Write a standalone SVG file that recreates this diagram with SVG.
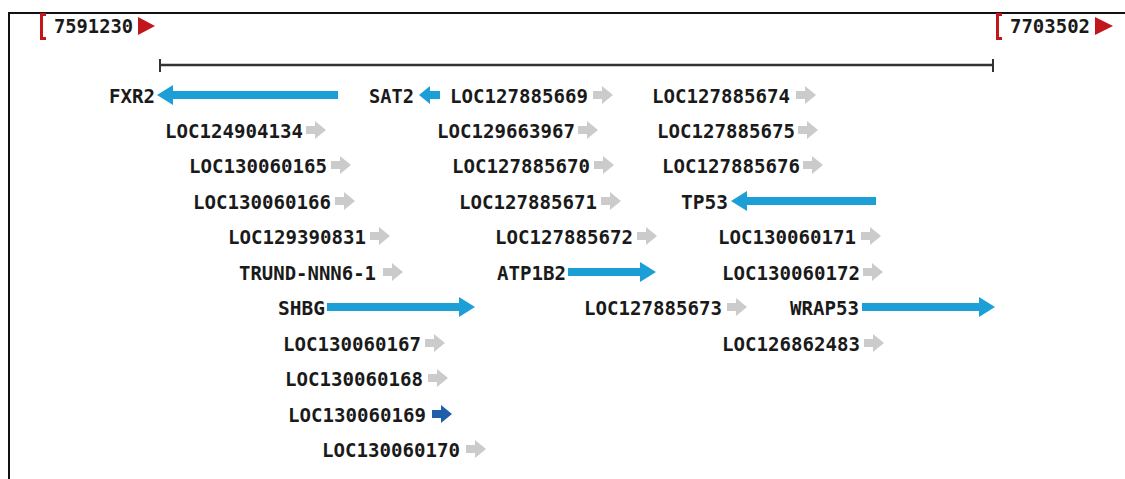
<svg xmlns="http://www.w3.org/2000/svg" xmlns:xlink="http://www.w3.org/1999/xlink" width="1125" height="479" viewBox="0 0 1125 479">
<style>
.t{font-family:"DejaVu Sans Mono","Liberation Mono",monospace;font-weight:bold;font-size:20px;fill:#1a1a1a}
.b{fill:#1c9fd6}
.g{fill:#cbcbcb}
.d{fill:#1f5ea8}
.r{fill:#c0161c}
</style>
<defs>
<path id="ga" d="M0,-4 H9 V-9 L20,0 L9,9 V4 H0 Z"/>
</defs>
<rect x="0" y="0" width="1125" height="479" fill="#fff"/>
<g id="frame" fill="none" stroke="#111" stroke-width="2">
<path d="M9,479 V13 H1125"/>
</g>
<g id="start-label">
<path class="r" d="M40,13 h6 v3 h-3 v21 h3 v3 h-6 Z"/>
<text class="t" x="54" y="33" textLength="79" lengthAdjust="spacingAndGlyphs">7591230</text>
<path class="r" d="M138,17 L155,26 L138,35 Z"/>
</g>
<g id="end-label">
<path class="r" d="M996,13 h6 v3 h-3 v21 h3 v3 h-6 Z"/>
<text class="t" x="1010" y="33" textLength="80" lengthAdjust="spacingAndGlyphs">7703502</text>
<path class="r" d="M1095,17 L1113,26 L1095,35 Z"/>
</g>
<g id="connectors">
<g id="ruler" stroke="#333" fill="none">
<line x1="160" y1="65" x2="993" y2="65" stroke-width="2.5"/>
<line x1="160" y1="59" x2="160" y2="72" stroke-width="2"/>
<line x1="993" y1="59" x2="993" y2="72" stroke-width="2"/>
</g>
</g>
<g id="FXR2"><text class="t" x="109" y="102.5" textLength="46" lengthAdjust="spacingAndGlyphs">FXR2</text><path class="b" d="M338,91 H173 V85 L157,95 L173,105 V99 H338 Z"/></g>
<g id="SAT2"><text class="t" x="369" y="102.5" textLength="45" lengthAdjust="spacingAndGlyphs">SAT2</text><path class="b" d="M440,91 H430 V86 L419,95 L430,104 V99 H440 Z"/></g>
<g id="LOC127885669"><text class="t" x="450" y="102.5" textLength="138" lengthAdjust="spacingAndGlyphs">LOC127885669</text><use href="#ga" class="g" x="593" y="95"/></g>
<g id="LOC127885674"><text class="t" x="652" y="102.5" textLength="138" lengthAdjust="spacingAndGlyphs">LOC127885674</text><use href="#ga" class="g" x="796" y="95"/></g>
<g id="LOC124904134"><text class="t" x="165" y="137.5" textLength="138" lengthAdjust="spacingAndGlyphs">LOC124904134</text><use href="#ga" class="g" x="306" y="130"/></g>
<g id="LOC129663967"><text class="t" x="437" y="137.5" textLength="138" lengthAdjust="spacingAndGlyphs">LOC129663967</text><use href="#ga" class="g" x="578" y="130"/></g>
<g id="LOC127885675"><text class="t" x="657" y="137.5" textLength="138" lengthAdjust="spacingAndGlyphs">LOC127885675</text><use href="#ga" class="g" x="798" y="130"/></g>
<g id="LOC130060165"><text class="t" x="189" y="172.5" textLength="138" lengthAdjust="spacingAndGlyphs">LOC130060165</text><use href="#ga" class="g" x="331" y="165"/></g>
<g id="LOC127885670"><text class="t" x="452" y="172.5" textLength="138" lengthAdjust="spacingAndGlyphs">LOC127885670</text><use href="#ga" class="g" x="594" y="165"/></g>
<g id="LOC127885676"><text class="t" x="662" y="172.5" textLength="138" lengthAdjust="spacingAndGlyphs">LOC127885676</text><use href="#ga" class="g" x="803" y="165"/></g>
<g id="LOC130060166"><text class="t" x="193" y="208.5" textLength="138" lengthAdjust="spacingAndGlyphs">LOC130060166</text><use href="#ga" class="g" x="335" y="201"/></g>
<g id="LOC127885671"><text class="t" x="459" y="208.5" textLength="138" lengthAdjust="spacingAndGlyphs">LOC127885671</text><use href="#ga" class="g" x="601" y="201"/></g>
<g id="TP53"><text class="t" x="681" y="208.5" textLength="47" lengthAdjust="spacingAndGlyphs">TP53</text><path class="b" d="M876,197 H747 V191 L731,201 L747,211 V205 H876 Z"/></g>
<g id="LOC129390831"><text class="t" x="228" y="243.5" textLength="138" lengthAdjust="spacingAndGlyphs">LOC129390831</text><use href="#ga" class="g" x="370" y="236"/></g>
<g id="LOC127885672"><text class="t" x="495" y="243.5" textLength="138" lengthAdjust="spacingAndGlyphs">LOC127885672</text><use href="#ga" class="g" x="637" y="236"/></g>
<g id="LOC130060171"><text class="t" x="718" y="243.5" textLength="138" lengthAdjust="spacingAndGlyphs">LOC130060171</text><use href="#ga" class="g" x="861" y="236"/></g>
<g id="TRUND-NNN6-1"><text class="t" x="239" y="279.5" textLength="137" lengthAdjust="spacingAndGlyphs">TRUND-NNN6-1</text><use href="#ga" class="g" x="383" y="272"/></g>
<g id="ATP1B2"><text class="t" x="497" y="279.5" textLength="69" lengthAdjust="spacingAndGlyphs">ATP1B2</text><path class="b" d="M568,268 H640 V262 L656,272 L640,282 V276 H568 Z"/></g>
<g id="LOC130060172"><text class="t" x="722" y="279.5" textLength="138" lengthAdjust="spacingAndGlyphs">LOC130060172</text><use href="#ga" class="g" x="863" y="272"/></g>
<g id="SHBG"><text class="t" x="278" y="314.5" textLength="47" lengthAdjust="spacingAndGlyphs">SHBG</text><path class="b" d="M327,303 H459 V297 L475,307 L459,317 V311 H327 Z"/></g>
<g id="LOC127885673"><text class="t" x="584" y="314.5" textLength="138" lengthAdjust="spacingAndGlyphs">LOC127885673</text><use href="#ga" class="g" x="727" y="307"/></g>
<g id="WRAP53"><text class="t" x="790" y="314.5" textLength="69" lengthAdjust="spacingAndGlyphs">WRAP53</text><path class="b" d="M862,303 H979 V297 L995,307 L979,317 V311 H862 Z"/></g>
<g id="LOC130060167"><text class="t" x="283" y="350.5" textLength="138" lengthAdjust="spacingAndGlyphs">LOC130060167</text><use href="#ga" class="g" x="425" y="343"/></g>
<g id="LOC126862483"><text class="t" x="722" y="350.5" textLength="138" lengthAdjust="spacingAndGlyphs">LOC126862483</text><use href="#ga" class="g" x="864" y="343"/></g>
<g id="LOC130060168"><text class="t" x="285" y="385.5" textLength="138" lengthAdjust="spacingAndGlyphs">LOC130060168</text><use href="#ga" class="g" x="428" y="378"/></g>
<g id="LOC130060169"><text class="t" x="288" y="421.5" textLength="138" lengthAdjust="spacingAndGlyphs">LOC130060169</text><use href="#ga" class="d" x="432" y="414"/></g>
<g id="LOC130060170"><text class="t" x="322" y="456.5" textLength="138" lengthAdjust="spacingAndGlyphs">LOC130060170</text><use href="#ga" class="g" x="466" y="449"/></g>
</svg>
